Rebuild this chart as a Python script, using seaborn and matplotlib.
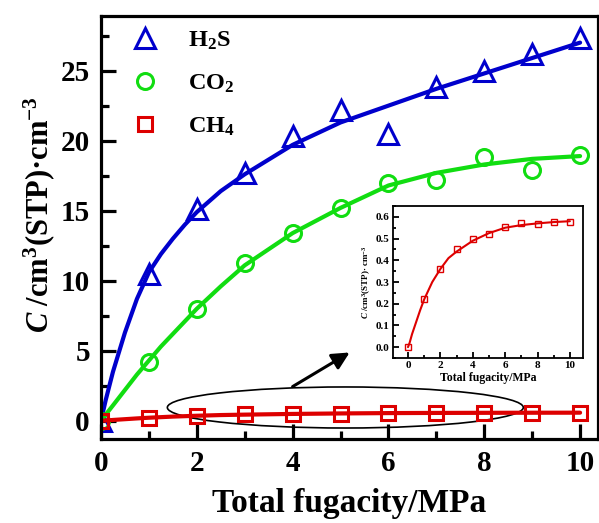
"""
Adsorption isotherms of H2S, CO2 and CH4 with a CH4 inset
"""
import matplotlib
matplotlib.use('Agg')
import matplotlib.pyplot as plt
from matplotlib.patches import Ellipse
from matplotlib.ticker import MultipleLocator
import pandas as pd
import seaborn as sns

# measured points
FUGACITY = [0, 1, 2, 3, 4, 5, 6, 7, 8, 9, 10]
H2S = [0.0, 10.5, 15.1, 17.7, 20.3, 22.2, 20.5, 23.8, 25.0, 26.2, 27.3]
CO2 = [0.0, 4.2, 8.0, 11.3, 13.4, 15.2, 17.0, 17.2, 18.8, 17.9, 19.0]
CH4 = [0.0, 0.22, 0.36, 0.45, 0.50, 0.52, 0.555, 0.57, 0.565, 0.575, 0.575]

# fitted curves
FIT_X = [0, 0.1, 0.25, 0.5, 0.75, 1, 1.25, 1.5, 1.75, 2, 2.5, 3, 4, 5, 6, 7, 8, 9, 10]
H2S_FIT = [0.0, 1.5, 3.5, 6.3, 8.7, 10.6, 11.9, 13.0, 14.0, 14.9, 16.4, 17.6, 19.7, 21.3, 22.5, 23.7, 24.8, 25.9, 27.0]
CO2_FIT = [0.0, 0.45, 1.1, 2.2, 3.3, 4.3, 5.3, 6.2, 7.1, 8.0, 9.6, 11.1, 13.4, 15.2, 16.8, 17.7, 18.3, 18.7, 18.9]
CH4_FIT = [0.0, 0.02, 0.06, 0.115, 0.17, 0.22, 0.26, 0.30, 0.33, 0.36, 0.41, 0.44, 0.49, 0.525, 0.55, 0.562, 0.57, 0.576, 0.58]

LABELS = ['H$_2$S', 'CO$_2$', 'CH$_4$']
COLORS = ['#0000CC', '#11DD11', '#DD0000']
MARKERS = ['^', 'o', 's']

sns.set_style('ticks')
plt.rcParams['font.family'] = ['Liberation Serif', 'DejaVu Serif']
plt.rcParams['font.weight'] = 'bold'
plt.rcParams['text.color'] = 'black'
plt.rcParams['axes.labelcolor'] = 'black'
plt.rcParams['xtick.color'] = 'black'
plt.rcParams['ytick.color'] = 'black'
plt.rcParams['mathtext.fontset'] = 'custom'
plt.rcParams['mathtext.rm'] = 'Liberation Serif:bold'
plt.rcParams['mathtext.it'] = 'Liberation Serif:bold:italic'
plt.rcParams['mathtext.bf'] = 'Liberation Serif:bold'

points_df = pd.DataFrame({'x': FUGACITY, 'H2S': H2S, 'CO2': CO2, 'CH4': CH4})
fit_df = pd.DataFrame({'x': FIT_X, 'H2S': H2S_FIT, 'CO2': CO2_FIT, 'CH4': CH4_FIT})


def style_axes(ax, width, major_len, minor_len, size, pad):
    for side in ['left', 'bottom', 'top', 'right']:
        ax.spines[side].set_linewidth(width)
        ax.spines[side].set_color('black')
    ax.tick_params(which='both', direction='in', top=False, right=False, width=width,
                   labelsize=size, colors='black', pad=pad)
    ax.tick_params(which='major', length=major_len)
    ax.tick_params(which='minor', length=minor_len)
    for lab in ax.get_xticklabels() + ax.get_yticklabels():
        lab.set_fontweight('bold')


fig = plt.figure(figsize=(5.99, 5.23), dpi=100)
ax = fig.add_axes([0.1686, 0.1606, 0.8294, 0.8088])

handles = []
for col, label, color, marker, ms in zip(['H2S', 'CO2', 'CH4'], LABELS, COLORS, MARKERS, [14, 11.5, 10]):
    sns.lineplot(data=fit_df, x='x', y=col, ax=ax, color=color, linewidth=3, sort=False)
    sns.lineplot(data=points_df, x='x', y=col, ax=ax, linestyle='none', marker=marker,
                 markersize=ms, markerfacecolor='none', markeredgecolor=color,
                 markeredgewidth=2.2, color=color, sort=False)
    handles.append(plt.Line2D([], [], linestyle='none', marker=marker, markersize=ms,
                              markerfacecolor='none', markeredgecolor=color,
                              markeredgewidth=2.2, label=label))

ax.set_xlim(0, 10.37)
ax.set_ylim(-1.3, 28.9)
ax.xaxis.set_major_locator(MultipleLocator(2))
ax.xaxis.set_minor_locator(MultipleLocator(1))
ax.yaxis.set_major_locator(MultipleLocator(5))
ax.yaxis.set_minor_locator(MultipleLocator(2.5))
style_axes(ax, 2.3, 11, 6, 21, 8)
ax.set_xlabel('Total fugacity/MPa', fontsize=24, fontweight='bold', labelpad=8)
ax.set_ylabel('$C$ /cm$^3$(STP)·cm$^{-3}$', fontsize=22, fontweight='bold')
ax.yaxis.set_label_coords(-0.088, 0.53)

ax.legend(handles=handles, loc='upper left', bbox_to_anchor=(0.012, 1.0), frameon=False,
          handletextpad=0.8, labelspacing=0.85, borderaxespad=0.15,
          prop={'weight': 'bold', 'size': 17.5})

ax.add_patch(Ellipse((5.1, 0.95), 7.43, 2.93, fill=False, edgecolor='black', linewidth=1.2))
ax.annotate('', xy=(5.24, 4.98), xytext=(3.95, 2.34),
            arrowprops=dict(arrowstyle='-|>', color='black', lw=2.2, mutation_scale=26))

# inset with CH4 only
inset = fig.add_axes([0.656, 0.3155, 0.317, 0.2906])
sns.lineplot(data=fit_df, x='x', y='CH4', ax=inset, color=COLORS[2], linewidth=1.5, sort=False)
sns.lineplot(data=points_df, x='x', y='CH4', ax=inset, linestyle='none', marker='s',
             markersize=5, markerfacecolor='none', markeredgecolor=COLORS[2],
             markeredgewidth=1.0, sort=False)
inset.set_xlim(-0.93, 10.8)
inset.set_ylim(-0.05, 0.65)
inset.xaxis.set_major_locator(MultipleLocator(2))
inset.xaxis.set_minor_locator(MultipleLocator(1))
inset.yaxis.set_major_locator(MultipleLocator(0.1))
inset.yaxis.set_minor_locator(MultipleLocator(0.05))
inset.yaxis.set_major_formatter(matplotlib.ticker.FormatStrFormatter('%.1f'))
style_axes(inset, 1.3, 4, 2.5, 8, 2.5)
inset.set_xlabel('Total fugacity/MPa', fontsize=8.5, fontweight='bold', labelpad=1)
inset.set_ylabel('$C$ /cm$^3$(STP)· cm$^{-3}$', fontsize=6.5, fontweight='bold', labelpad=2)

fig.savefig('out.png', dpi=100)
plt.close(fig)
